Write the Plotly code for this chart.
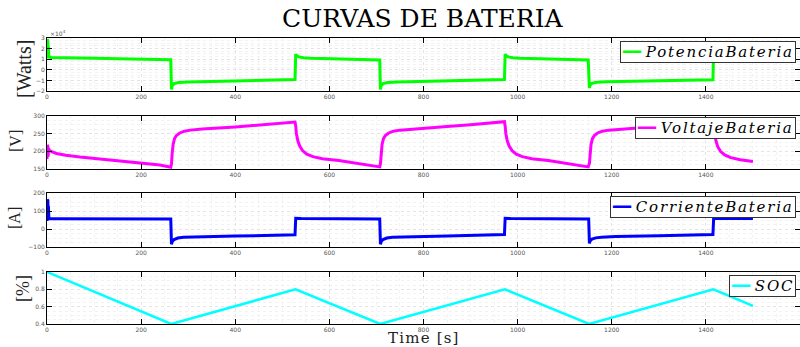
import plotly.graph_objects as go

# ---------------- data ----------------
t_power = [0, 0.6, 1.2, 1.8, 2.4, 3, 4, 10, 30, 60, 100, 150, 200, 240, 263,
           264.5, 266, 270, 280, 300, 350, 400, 450, 500, 527,
           528.5, 530, 535, 545, 560, 600, 650, 700, 707,
           708.5, 710, 714, 724, 744, 800, 850, 900, 950, 972,
           973.5, 975, 980, 990, 1005, 1050, 1100, 1150,
           1152.5, 1154, 1158, 1168, 1188, 1250, 1300, 1350, 1400, 1415,
           1416.5, 1418, 1423, 1433, 1450, 1500]
power_w = [11000, 29000, 11000, 27000, 11500, 22000, 12000, 11700, 11400, 11100, 10800, 10400, 10000, 9700, 9400,
           -18500, -15000, -13000, -12000, -11400, -11000, -10600, -10200, -9700, -9200,
           14800, 13500, 12200, 11300, 10900, 10500, 10000, 9400, 9200,
           -18500, -15000, -13000, -12000, -11400, -11000, -10600, -10200, -9700, -9200,
           14800, 13500, 12200, 11300, 10900, 10400, 9900, 9300,
           -17000, -14500, -12800, -11800, -11200, -10800, -10400, -10000, -9500, -9300,
           17000, 14000, 12000, 11200, 10800, 10200]

t_volt = [0, 0.6, 1.2, 1.8, 2.4, 3, 5, 10, 20, 40, 70, 100, 150, 200, 240, 263,
          264.5, 266, 268, 271, 275, 282, 292, 305, 330, 400, 450, 500, 527,
          528.5, 530, 533, 537, 543, 552, 565, 585, 620, 700, 707,
          708.5, 710, 712, 715, 719, 726, 736, 750, 775, 850, 900, 950, 972,
          973.5, 975, 978, 982, 988, 997, 1010, 1030, 1065, 1150,
          1152.5, 1154, 1156, 1159, 1163, 1170, 1180, 1194, 1220, 1300, 1350, 1400, 1415,
          1416.5, 1418, 1421, 1425, 1431, 1440, 1453, 1473, 1500]
volt_v = [178, 218, 180, 215, 185, 208, 203, 199, 194, 189, 184, 180, 174, 167, 161, 155,
          165, 195, 220, 236, 245, 252, 257, 260, 263, 269, 274, 279, 283,
          272, 250, 230, 215, 202, 192, 185, 179, 174, 158, 156,
          165, 195, 220, 236, 245, 252, 257, 260, 263, 270, 275, 280, 284,
          272, 250, 230, 215, 202, 192, 185, 179, 174, 156,
          166, 196, 220, 236, 245, 252, 257, 260, 263, 271, 276, 281, 284,
          272, 252, 232, 214, 200, 190, 182, 176, 171]

t_curr = [0, 0.6, 1.2, 1.8, 2.4, 3, 4, 10, 100, 263,
          264.5, 266, 270, 278, 290, 320, 400, 527,
          528.5, 540, 707,
          708.5, 710, 714, 722, 734, 764, 850, 972,
          973.5, 985, 1151,
          1152.5, 1154, 1158, 1166, 1178, 1208, 1300, 1415,
          1416.5, 1500]
curr_a = [45, 165, 48, 160, 55, 130, 58, 58, 57, 56,
          -85, -70, -58, -50, -46, -43, -39, -32,
          60, 59, 56,
          -85, -70, -58, -50, -46, -43, -38, -30,
          60, 59, 57,
          -80, -66, -56, -49, -45, -42, -37, -30,
          60, 59]

t_soc = [0, 264, 528, 708, 973, 1152, 1416, 1500]
soc = [1.0, 0.4, 0.8, 0.4, 0.8, 0.4, 0.8, 0.61]

x_ticks = [0, 200, 400, 600, 800, 1000, 1200, 1400, 1600]
power_ticks = [-2, -1, 0, 1, 2, 3]
volt_ticks = [150, 200, 250, 300]
curr_ticks = [-100, 0, 100, 200]
soc_ticks = [0.4, 0.6, 0.8, 1]

series_names = ["PotenciaBateria", "VoltajeBateria", "CorrienteBateria", "SOC"]
series_colors = ["#00ff00", "#ff00ff", "#0000ff", "#00ffff"]

# ---------------- figure ----------------
W, H = 800, 347
def py(px):
    return 1 - px / H

fig = go.Figure()
fig.add_trace(go.Scatter(x=t_power, y=[p / 1e4 for p in power_w], mode="lines",
                         line=dict(color=series_colors[0], width=3), name=series_names[0],
                         xaxis="x", yaxis="y"))
fig.add_trace(go.Scatter(x=t_volt, y=volt_v, mode="lines",
                         line=dict(color=series_colors[1], width=3), name=series_names[1],
                         xaxis="x2", yaxis="y2"))
fig.add_trace(go.Scatter(x=t_curr, y=curr_a, mode="lines",
                         line=dict(color=series_colors[2], width=3), name=series_names[2],
                         xaxis="x3", yaxis="y3"))
fig.add_trace(go.Scatter(x=t_soc, y=soc, mode="lines",
                         line=dict(color=series_colors[3], width=2.5), name=series_names[3],
                         xaxis="x4", yaxis="y4"))

domains = [(38, 91), (116, 169), (193.3, 247), (272, 324)]
yinfo = [(power_ticks, [-2, 3], 0.25), (volt_ticks, [150, 300], 12.5),
         (curr_ticks, [-100, 200], 25), (soc_ticks, [0.4, 1], 0.05)]
tickfont = dict(family="DejaVu Sans", size=6, color="#555555")
layout = {}
for i in range(4):
    suf = "" if i == 0 else str(i + 1)
    top, bot = domains[i]
    ticks, rng, mdt = yinfo[i]
    layout["xaxis" + suf] = dict(
        domain=[47 / W, 1.0], range=[0, 1600], anchor="y" + suf, automargin=False,
        tickvals=x_ticks, ticks="inside", ticklen=5, tickcolor="black",
        showline=True, linecolor="black", linewidth=1, mirror="ticks",
        showgrid=True, gridcolor="#e4e4e4", griddash="dot", gridwidth=1,
        minor=dict(dtick=50, showgrid=True, gridcolor="#f2f2f2", griddash="dot", ticks=""),
        tickfont=tickfont, zeroline=False, fixedrange=True)
    layout["yaxis" + suf] = dict(
        domain=[py(bot), py(top)], range=rng, anchor="x" + suf, automargin=False,
        tickvals=ticks, ticks="inside", ticklen=5, tickcolor="black",
        showline=True, linecolor="black", linewidth=1, mirror="ticks",
        showgrid=True, gridcolor="#e4e4e4", griddash="dot", gridwidth=1,
        minor=dict(dtick=mdt, showgrid=True, gridcolor="#f2f2f2", griddash="dot", ticks=""),
        tickfont=tickfont, zeroline=False, fixedrange=True)

annotations = [
    dict(text="CURVAS DE BATERIA", x=423 / W, y=py(19), xref="paper", yref="paper",
         xanchor="center", yanchor="middle",
         showarrow=False, font=dict(family="DejaVu Serif", size=25, color="black")),
    dict(text="<span style='letter-spacing:1.2px'>Time [s]</span>", x=424 / W, y=py(338),
         xref="paper", yref="paper", xanchor="center", yanchor="middle",
         showarrow=False, font=dict(family="DejaVu Serif", size=15, color="#222222")),
    dict(text="×10<sup>4</sup>", x=48 / W, y=py(33), xref="paper", yref="paper",
         xanchor="left", yanchor="middle",
         showarrow=False, font=dict(family="DejaVu Sans", size=6, color="#555555")),
]
ylabels = [("[Watts]", 24, 69, 20), ("[V]", 15, 141, 16), ("[A]", 14, 218, 16), ("[%]", 23, 289, 18)]
for txt, xx, yy, fs in ylabels:
    annotations.append(dict(text=txt, x=xx / W, y=py(yy), xref="paper", yref="paper",
                            textangle=-90, xanchor="center", yanchor="middle",
                            showarrow=False,
                            font=dict(family="Liberation Serif", size=fs, color="#222222")))

# legend boxes (one per panel, top-right)
legend_tops = [41, 116.5, 195.5, 274.5]
for name, color, top in zip(series_names, series_colors, legend_tops):
    annotations.append(dict(
        text=(f"<span style='color:{color}'>━━</span> "
              f"<span style='letter-spacing:1.8px'><i>{name}</i></span>"),
        x=796 / W, y=py(top), xref="paper", yref="paper",
        xanchor="right", yanchor="top", showarrow=False,
        bgcolor="white", bordercolor="#333333", borderwidth=1, borderpad=1,
        font=dict(family="DejaVu Serif", size=15, color="black")))

fig.update_layout(width=W, height=H, margin=dict(l=0, r=0, t=0, b=0, autoexpand=False),
                  paper_bgcolor="white", plot_bgcolor="white",
                  showlegend=False, annotations=annotations, **layout)

fig.write_html("out.html", config={"displayModeBar": False},
               post_script="document.body.style.margin='0';")
